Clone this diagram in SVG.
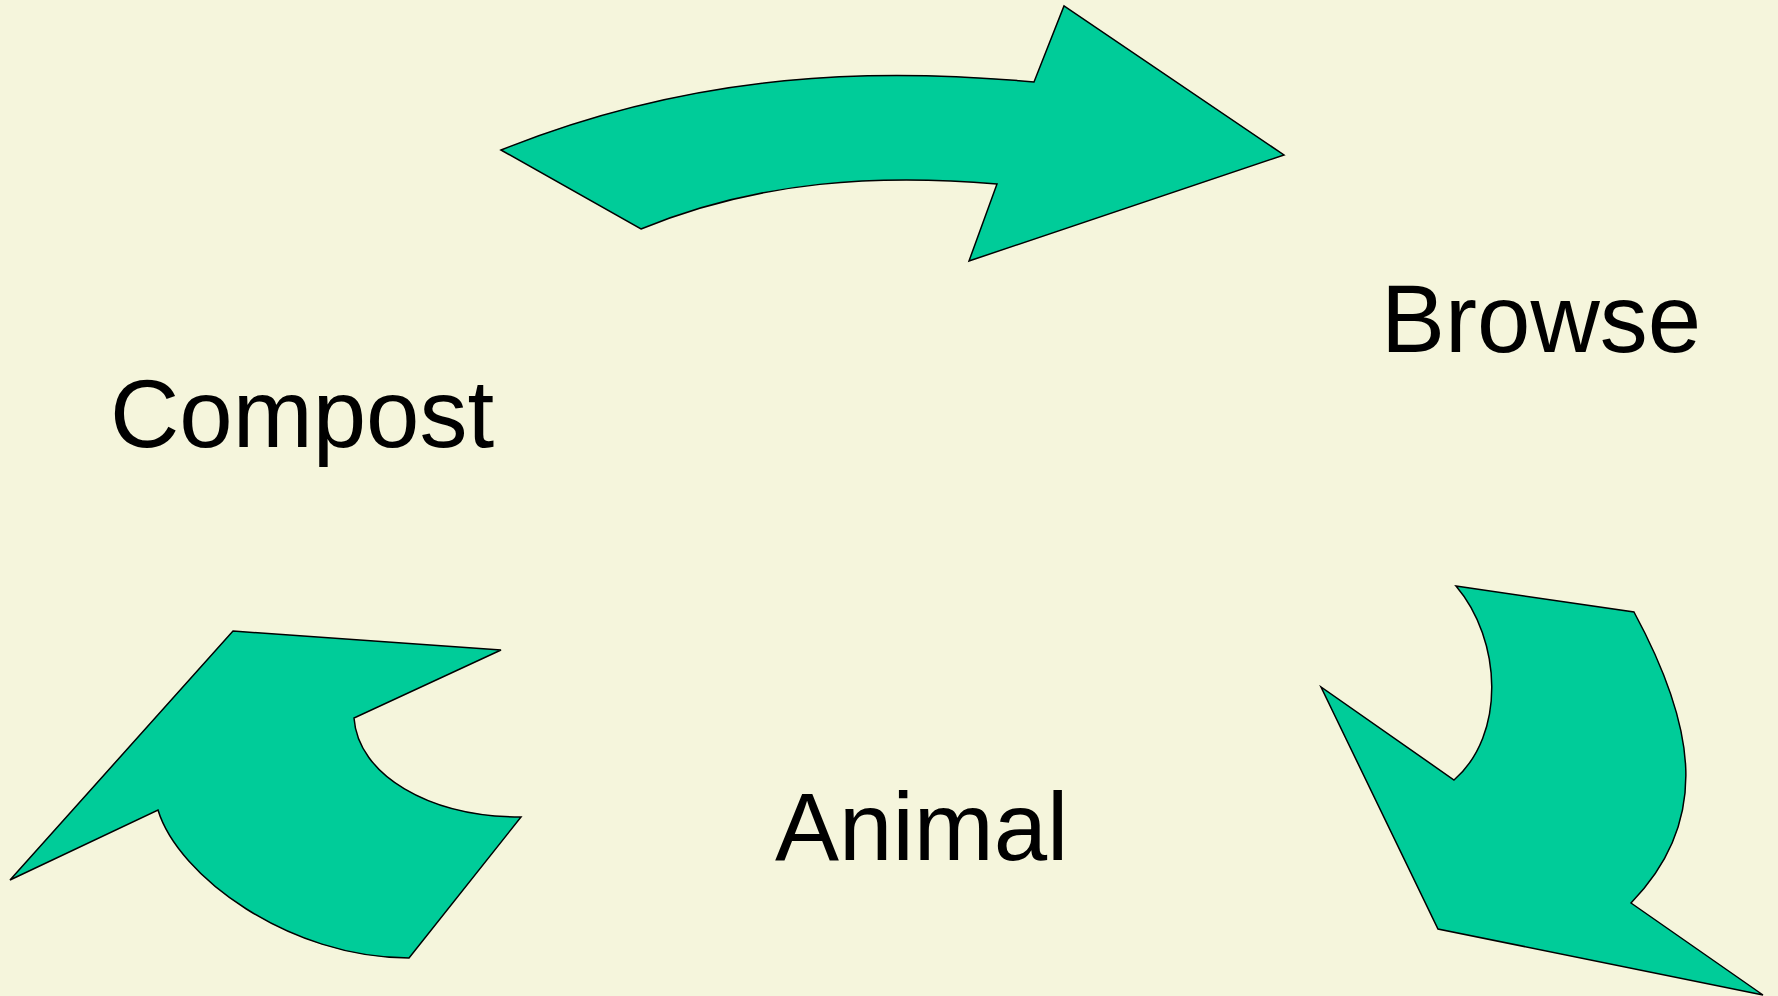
<svg xmlns="http://www.w3.org/2000/svg" width="1778" height="996" viewBox="0 0 1778 996">
<style>
.arrow{fill:#00CC99;stroke:#000;stroke-width:1.5;stroke-linejoin:miter}
.lbl{font-family:"Liberation Sans",Arial,sans-serif;font-size:96px;fill:#000}
</style>
<rect width="1778" height="996" fill="#F5F5DC"/>
<g id="connectors">
<path class="arrow" d="M501,150 C700,70 880,68 1034,82 L1064,6 L1284,155 L969,261 L997,184 C880,174 760,180 641,229 Z"/>
<path class="arrow" d="M1456,586 L1634,612 C1695,725 1712,820 1631,903 L1763,995 L1438,929 L1321,687 L1454,780 C1506,735 1502,640 1456,586 Z"/>
<path class="arrow" d="M233,631 L501,650 L354,718 C358,775 429,817 521,817 L409,958 C289,958 178,876 158,810 L10,880 Z"/>
</g>
<g id="browse"><text class="lbl" x="1381" y="352">Browse</text></g>
<g id="compost"><text class="lbl" x="110" y="447">Compost</text></g>
<g id="animal"><text class="lbl" x="775" y="860">Animal</text></g>
</svg>
